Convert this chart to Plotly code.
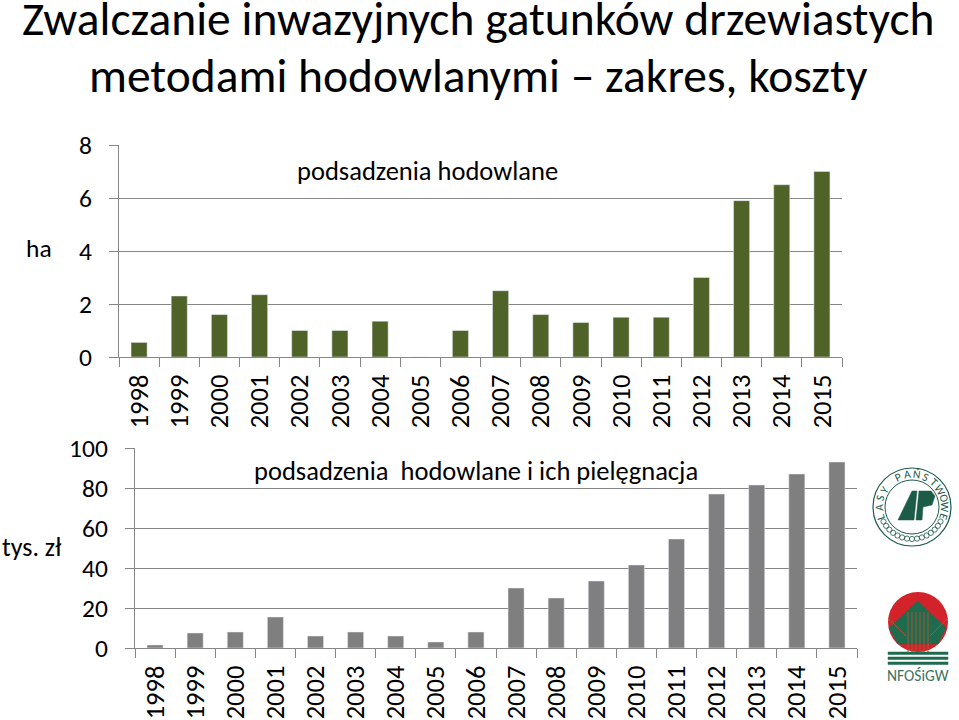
import math
import plotly.graph_objects as go

years = [str(y) for y in range(1998, 2016)]
hectares = [0.55, 2.3, 1.6, 2.35, 1.0, 1.0, 1.35, 0, 1.0, 2.5, 1.6, 1.3, 1.5, 1.5, 3.0, 5.9, 6.5, 7.0]
costs = [1.5, 7.5, 8, 15.5, 6, 8, 6, 3, 8, 30, 25, 33.5, 41.5, 54.5, 77, 81.5, 87, 93]
title_lines = ["Zwalczanie inwazyjnych gatunków drzewiastych", "metodami hodowlanymi – zakres, koszty"]
FONT = "Carlito, Calibri, Open Sans, sans-serif"
W, H = 959, 720
AX = "#868686"

fig = go.Figure()
fig.add_trace(go.Bar(x=years, y=hectares, marker_color="#4F6228", width=0.4, xaxis="x", yaxis="y"))
fig.add_trace(go.Bar(x=years, y=costs, marker_color="#7F7F7F", width=0.4, xaxis="x2", yaxis="y2"))

def xa(l, r, anchor):
    return dict(domain=[l/W, r/W], anchor=anchor, type="category", tickangle=-90, showgrid=False,
                linecolor=AX, ticks="outside", ticklen=9, tickcolor=AX, tickson="boundaries",
                ticklabelstandoff=6, tickfont=dict(size=26.5, color="black", family=FONT))
def ya(t, b, rng, dt, anchor):
    return dict(domain=[1-b/H, 1-t/H], anchor=anchor, range=rng, dtick=dt, showgrid=True, gridcolor=AX,
                gridwidth=1, linecolor=AX, ticks="outside", ticklen=9, tickcolor=AX, ticklabelstandoff=12,
                tickfont=dict(size=25.5, color="black", family=FONT), zeroline=False)

fig.update_layout(
    width=W, height=H, margin=dict(l=0, r=0, t=0, b=0, autoexpand=False), showlegend=False, bargap=0.6,
    paper_bgcolor="white", plot_bgcolor="white",
    xaxis=xa(119, 842, "y"), yaxis=ya(145, 357, [0, 8], 2, "x"),
    xaxis2=xa(135, 857, "y2"), yaxis2=ya(448, 648, [0, 100], 20, "x2"),
)

def note(text, x, y, size, color="black", angle=0):
    fig.add_annotation(text=text, x=x/W, y=1-y/H, xref="paper", yref="paper", showarrow=False, textangle=angle,
                       xanchor="center", yanchor="middle", font=dict(size=size, color=color, family=FONT))

def shape_path(pts, fill, line=None):
    d = "M " + " L ".join(f"{x/W:.5f},{1-y/H:.5f}" for x, y in pts) + " Z"
    fig.add_shape(type="path", path=d, xref="paper", yref="paper", fillcolor=fill,
                  line=dict(color=line or fill, width=0.5), layer="above")

def seg(x0, y0, x1, y1, color, width=1):
    fig.add_shape(type="line", xref="paper", yref="paper", x0=x0/W, x1=x1/W, y0=1-y0/H, y1=1-y1/H,
                  line=dict(color=color, width=width), layer="above")

def circle(cx, cy, r, fill=None, line=None, width=1):
    fig.add_shape(type="circle", xref="paper", yref="paper", x0=(cx-r)/W, x1=(cx+r)/W,
                  y0=1-(cy+r)/H, y1=1-(cy-r)/H, fillcolor=fill or "rgba(0,0,0,0)",
                  line=dict(color=line or "rgba(0,0,0,0)", width=width), layer="above")

note(title_lines[0], 478, 19, 47.5)
note(title_lines[1], 478, 76, 47.5)
note("podsadzenia hodowlane", 427, 171, 26.5)
note("podsadzenia  hodowlane i ich pielęgnacja", 476, 471, 26.5)
note("ha", 39, 248, 25.5)
note("tys. zł", 32, 547, 26)

# Lasy Panstwowe logo
G = "#1D5B49"
cx, cy = 912, 507
circle(cx, cy, 39, None, G, 1.2)
circle(cx, cy, 27, None, G, 1)
letters = "LASY PAŃSTWOWE"
for i, ch in enumerate(letters):
    a = -108 + i * (216 / (len(letters) - 1))
    r = 33
    note(ch, cx + r*math.sin(math.radians(a)), cy - r*math.cos(math.radians(a)), 11.5, G, a)
for i in range(-7, 8):
    a = math.radians(180 + i*9)
    x, y = cx + 32*math.sin(a), cy - 32*math.cos(a)
    circle(x, y, 2.6, None, G, 0.8)
shape_path([(898, 520), (912, 491), (917, 491), (914, 520)], G)
shape_path([(916, 520), (919, 491), (931, 491), (935, 496), (932, 505), (923, 507), (922, 520)], G)

# NFOSiGW logo
R = "#D2232A"
G2 = "#1E6B4D"
B = "#A8553A"
cx2, cy2 = 918, 622
circle(cx2, cy2, 30, R)
shape_path([(918, 601), (946, 628), (938, 644), (898, 644), (889, 628)], G2)
for dx in (-10, -6, -2, 2, 6, 10):
    seg(918+dx, 612, 918+dx, 654, B, 1)
for dx in (12, 20):
    seg(918+dx, 648-dx, 918+dx+10, 638-dx, B, 1)
    seg(918-dx, 648-dx, 918-dx-10, 638-dx, B, 1)
for yy in (652, 657, 662):
    shape_path([(888, yy), (948, yy), (948, yy+2.5), (888, yy+2.5)], G2)
note("NFOŚiGW", 918, 675, 15.5, "#3D7262")
fig.write_html("out.html", config={"displayModeBar": False},
               post_script="document.body.style.margin='0';document.documentElement.style.overflow='hidden';")
